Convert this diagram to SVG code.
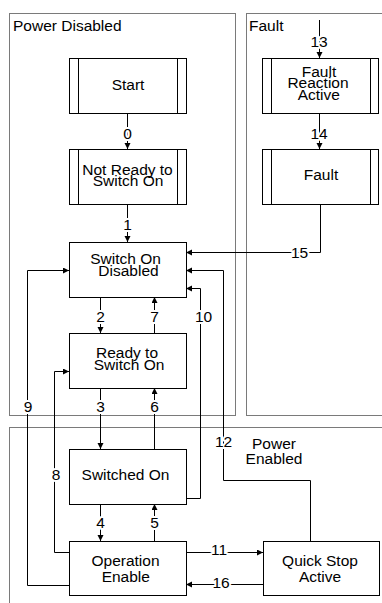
<svg xmlns="http://www.w3.org/2000/svg" width="382" height="603" viewBox="0 0 382 603">
<defs>
<marker id="arr" markerUnits="userSpaceOnUse" markerWidth="7" markerHeight="7" refX="6" refY="3" orient="auto">
<path d="M0,0 L6,3 L0,6 z" fill="#000"/>
</marker>
<style>
text{font-family:"Liberation Sans",Arial,sans-serif;font-size:15.5px;fill:#000;text-anchor:middle}
.region{fill:none;stroke:#7a7a7a;stroke-width:1}
.title{text-anchor:start}
.box{fill:#fff;stroke:#000;stroke-width:1}
.bar{stroke:#000;stroke-width:1}
.conn{fill:none;stroke:#000;stroke-width:1;marker-end:url(#arr)}
.lbl{stroke:#fff;stroke-width:4;paint-order:stroke;stroke-linejoin:round}
</style>
</defs>
<rect width="382" height="603" fill="#fff"/>
<g id="regions">
<rect class="region" x="9.5" y="13.5" width="226" height="402"/>
<rect class="region" x="246.5" y="13.5" width="200" height="402"/>
<rect class="region" x="9.5" y="427.5" width="400" height="200"/>
<text class="title" x="13" y="30.5">Power Disabled</text>
<text class="title" x="249" y="30.5">Fault</text>
<text x="274" y="449">Power</text>
<text x="274" y="464">Enabled</text>
</g>
<g id="connectors">
<path class="conn" d="M127.5,113 V149"/>
<path class="conn" d="M127.5,204 V242"/>
<path class="conn" d="M319.5,20 V58"/>
<path class="conn" d="M319.5,113 V149"/>
<path class="conn" d="M320.5,204 V252.5 H186"/>
<path class="conn" d="M310.5,541 V480.5 H223.5 V270.5 H186"/>
<path class="conn" d="M186,498.5 H200.5 V288.5 H186"/>
<path class="conn" d="M69,585.5 H27.5 V270.5 H69"/>
<path class="conn" d="M69,552.5 H54.5 V371.5 H69"/>
<path class="conn" d="M100.5,297 V333"/>
<path class="conn" d="M154.5,333 V297"/>
<path class="conn" d="M100.5,388 V449"/>
<path class="conn" d="M154.5,449 V388"/>
<path class="conn" d="M100.5,504 V541"/>
<path class="conn" d="M154.5,541 V504"/>
<path class="conn" d="M186,552.5 H263"/>
<path class="conn" d="M263,584.5 H186"/>
<text class="lbl" x="127.5" y="138.5">0</text>
<text class="lbl" x="127.5" y="230">1</text>
<text class="lbl" x="319" y="46.5">13</text>
<text class="lbl" x="319" y="138.5">14</text>
<text class="lbl" x="299.5" y="257.5">15</text>
<text class="lbl" x="223.5" y="446.5">12</text>
<text class="lbl" x="203.5" y="321.5">10</text>
<text class="lbl" x="28" y="411.5">9</text>
<text class="lbl" x="56" y="480">8</text>
<text class="lbl" x="100.5" y="321.5">2</text>
<text class="lbl" x="154.5" y="321.5">7</text>
<text class="lbl" x="100.5" y="411.5">3</text>
<text class="lbl" x="154.5" y="411.5">6</text>
<text class="lbl" x="100.5" y="527.5">4</text>
<text class="lbl" x="154.5" y="527.5">5</text>
<text class="lbl" x="219" y="555">11</text>
<text class="lbl" x="221" y="588">16</text>
</g>
<g id="start">
<rect class="box" x="69.5" y="58.5" width="117" height="55"/>
<line class="bar" x1="78.5" y1="58.5" x2="78.5" y2="113.5"/>
<line class="bar" x1="177.5" y1="58.5" x2="177.5" y2="113.5"/>
<text x="128" y="89.5">Start</text>
</g>
<g id="not-ready">
<rect class="box" x="69.5" y="149.5" width="117" height="55"/>
<line class="bar" x1="78.5" y1="149.5" x2="78.5" y2="204.5"/>
<line class="bar" x1="177.5" y1="149.5" x2="177.5" y2="204.5"/>
<text x="127.5" y="174.5">Not Ready to</text>
<text x="128" y="185.8">Switch On</text>
</g>
<g id="switch-on-disabled">
<rect class="box" x="69.5" y="242.5" width="117" height="55"/>
<text x="125.5" y="264.3">Switch On</text>
<text x="128.5" y="275.8">Disabled</text>
</g>
<g id="ready-to-switch-on">
<rect class="box" x="69.5" y="333.5" width="117" height="55"/>
<text x="127" y="358.3">Ready to</text>
<text x="129" y="370">Switch On</text>
</g>
<g id="switched-on">
<rect class="box" x="69.5" y="449.5" width="117" height="55"/>
<text x="125.5" y="480">Switched On</text>
</g>
<g id="operation-enable">
<rect class="box" x="69.5" y="541.5" width="117" height="54"/>
<text x="125.5" y="565.7">Operation</text>
<text x="125.8" y="582.3">Enable</text>
</g>
<g id="quick-stop-active">
<rect class="box" x="263.5" y="541.5" width="116" height="54"/>
<text x="320" y="565.7">Quick Stop</text>
<text x="320" y="582.3">Active</text>
</g>
<g id="fault-reaction-active">
<rect class="box" x="262.5" y="58.5" width="116" height="55"/>
<line class="bar" x1="271.5" y1="58.5" x2="271.5" y2="113.5"/>
<line class="bar" x1="370.5" y1="58.5" x2="370.5" y2="113.5"/>
<text x="319" y="76.7">Fault</text>
<text x="318" y="88.3">Reaction</text>
<text x="318.8" y="100">Active</text>
</g>
<g id="fault">
<rect class="box" x="262.5" y="149.5" width="116" height="55"/>
<line class="bar" x1="271.5" y1="149.5" x2="271.5" y2="204.5"/>
<line class="bar" x1="370.5" y1="149.5" x2="370.5" y2="204.5"/>
<text x="321" y="180">Fault</text>
</g>
</svg>
